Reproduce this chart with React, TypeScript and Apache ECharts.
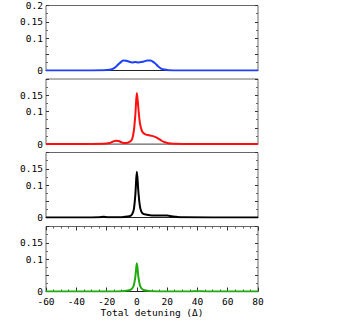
import React, { useEffect, useRef } from "react";
import * as echarts from "echarts";

// x values (total detuning) and curve values per panel
const xBlue = [-60, -30, -22, -18, -16, -14, -12, -10, -9, -7, -5, -3, -1, 1, 3, 5, 7, 9, 10, 12, 14, 16, 18, 21, 25, 30, 80];
const yBlue = [0, 0, 0.0005, 0.002, 0.005, 0.011, 0.02, 0.028, 0.031, 0.030, 0.027, 0.025, 0.026, 0.025, 0.026, 0.028, 0.031, 0.031, 0.029, 0.022, 0.013, 0.006, 0.003, 0.001, 0.0003, 0, 0];

const xRed = [-60, -30, -22, -18, -16, -14, -12, -10, -8, -6, -4, -3, -2, -1, 0, 1, 2, 3, 4, 6, 8, 10, 12, 14, 16, 18, 21, 25, 30, 80];
const yRed = [0, 0, 0.0005, 0.003, 0.007, 0.010, 0.009, 0.005, 0.003, 0.004, 0.009, 0.017, 0.04, 0.09, 0.157, 0.11, 0.065, 0.045, 0.035, 0.029, 0.027, 0.025, 0.022, 0.017, 0.011, 0.006, 0.002, 0.0005, 0, 0];

const xBlack = [-60, -30, -25, -22, -19, -15, -10, -6, -4, -3, -2, -1, 0, 1, 2, 3, 4, 6, 10, 15, 20, 23, 26, 30, 80];
const yBlack = [0, 0, 0.0005, 0.002, 0.0005, 0.0005, 0.001, 0.003, 0.006, 0.011, 0.025, 0.07, 0.141, 0.08, 0.035, 0.018, 0.012, 0.009, 0.006, 0.006, 0.006, 0.004, 0.002, 0.0005, 0];

const xGreen = [-60, -20, -10, -6, -4, -3, -2, -1, 0, 1, 2, 3, 4, 6, 10, 20, 35, 40, 45, 80];
const yGreen = [0, 0.0003, 0.001, 0.003, 0.006, 0.01, 0.019, 0.045, 0.087, 0.045, 0.019, 0.01, 0.006, 0.003, 0.001, 0.0003, 0.0003, 0.001, 0.0003, 0];

const xTicks = { min: -60, max: 80, interval: 20 };
const yTickLabels = ["0", "0.1", "0.15"];
const xAxisTitle = "Total detuning (\u0394)";

const colors = ["#1e40ff", "#ff1010", "#000000", "#22aa11"];

export default function App() {
  const ref = useRef<HTMLDivElement>(null);
  useEffect(() => {
    document.body.style.margin = "0";
    const chart = echarts.init(ref.current!, undefined, { renderer: "svg" });
    const font = "DejaVu Sans Mono";
    const tops = [5.5, 79, 152.5, 226.5];
    const h = 65;
    const series = [
      [xBlue, yBlue],
      [xRed, yRed],
      [xBlack, yBlack],
      [xGreen, yGreen],
    ];
    const grids = tops.map((t) => ({
      left: 46,
      width: 212,
      top: t,
      height: h,
      show: true,
      borderColor: "#666",
      borderWidth: 1,
    }));
    const xAxes: any[] = [];
    const yAxes: any[] = [];
    tops.forEach((_, i) => {
      const last = i === 3;
      xAxes.push({
        type: "value",
        gridIndex: i,
        min: xTicks.min,
        max: xTicks.max,
        interval: xTicks.interval,
        axisLine: { show: true, onZero: false, lineStyle: { color: i === 1 ? "#888" : "#222", width: 1 } },
        axisTick: { show: last, inside: true, length: 4, lineStyle: { color: "#333" } },
        minorTick: { show: last, splitNumber: 4, length: 2, lineStyle: { color: "#555" } },
        axisLabel: {
          show: last,
          fontFamily: font,
          fontSize: 9.5,
          lineHeight: 9,
          color: "#000",
          margin: 5,
        },
        splitLine: { show: false },
        name: last ? xAxisTitle : "",
        nameLocation: "middle",
        nameGap: 16,
        nameTextStyle: { fontFamily: font, fontSize: 9.5, color: "#000" },
      });
      if (last) {
        xAxes.push({
          type: "value",
          gridIndex: i,
          position: "top",
          min: xTicks.min,
          max: xTicks.max,
          interval: xTicks.interval,
          axisLine: { show: false, onZero: false },
          axisTick: { show: true, inside: true, length: 4, lineStyle: { color: "#333" } },
          minorTick: { show: true, splitNumber: 4, length: 2, lineStyle: { color: "#555" } },
          axisLabel: { show: false },
          splitLine: { show: false },
        });
      }
      const yCommon = {
        type: "value",
        gridIndex: i,
        min: 0,
        max: 0.2,
        interval: 0.05,
        axisLine: { show: false, onZero: false },
        axisTick: { show: true, inside: true, length: 3, lineStyle: { color: "#333" } },
        minorTick: { show: true, splitNumber: 2, length: 2, lineStyle: { color: "#666" } },
        splitLine: { show: false },
      };
      yAxes.push({
        ...yCommon,
        position: "left",
        axisLabel: {
          fontFamily: font,
          fontSize: 9.5,
          lineHeight: 9,
          color: "#000",
          margin: 3,
          formatter: (v: number) => {
            if (Math.abs(v) < 1e-9) return yTickLabels[0];
            if (Math.abs(v - 0.1) < 1e-9) return yTickLabels[1];
            if (Math.abs(v - 0.15) < 1e-9) return yTickLabels[2];
            if (i === 0 && Math.abs(v - 0.2) < 1e-9) return "0.2";
            return "";
          },
        },
      });
      yAxes.push({
        ...yCommon,
        position: "right",
        axisLabel: { show: false },
      });
    });
    const seriesOpts = series.map(([xs, ys], i) => ({
      type: "line",
      xAxisIndex: i,
      yAxisIndex: i * 2,
      data: xs.map((x, k) => [x, ys[k]]),
      smooth: 0.35,
      showSymbol: false,
      lineStyle: { color: colors[i], width: 2 },
      z: 5,
    }));
    chart.setOption({
      animation: false,
      backgroundColor: "#fff",
      grid: grids,
      xAxis: xAxes,
      yAxis: yAxes,
      series: seriesOpts,
    });
    return () => chart.dispose();
  }, []);
  return <div ref={ref} style={{ width: 354, height: 327 }} />;
}
